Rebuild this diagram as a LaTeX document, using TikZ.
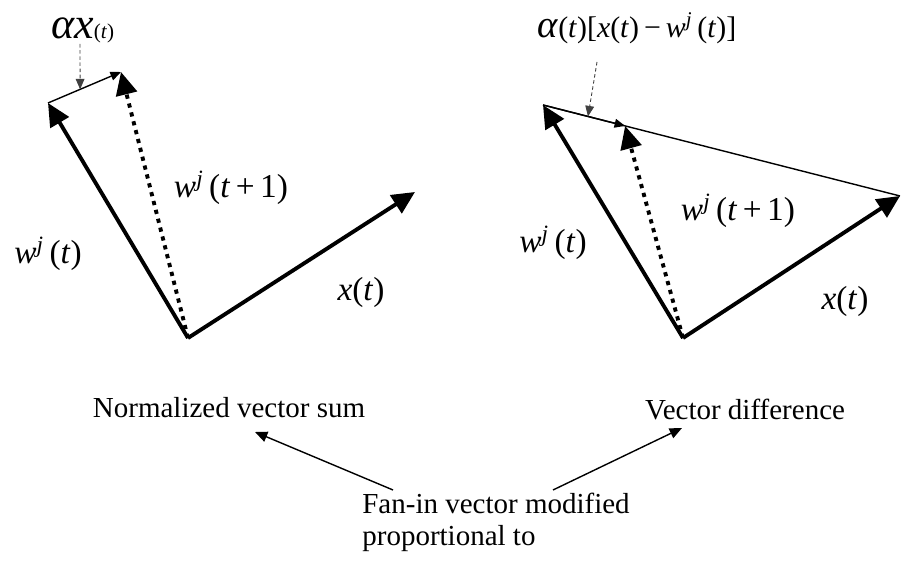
\documentclass[tikz,border=0pt]{standalone}
\usepackage{fontspec}
\setmainfont{Liberation Serif}
\newfontfamily\vecfont{Liberation Serif}
\usetikzlibrary{arrows.meta,calc}
\newcommand{\wvec}[1]{\textit{w}\textsuperscript{\textit{j}}\,(#1)}
\newcommand{\xvec}{\textit{x}(\textit{t})}

\begin{document}
\begin{tikzpicture}[x=1cm,y=1cm,>=Latex,
  vec/.style={line width=2.2pt,-{Triangle[length=13pt,width=12pt]}},
  dotvec/.style={vec,dash pattern=on 2.4pt off 2.8pt},
  thinvec/.style={line width=0.8pt,-{Triangle[length=6pt,width=5pt]}},
  pointer/.style={line width=0.5pt,black!75,dash pattern=on 2pt off 1.5pt,-{Triangle[length=6pt,width=5pt]}},
  callout/.style={line width=0.8pt,-{Triangle[length=7pt,width=6pt]}},
  lbl/.style={inner sep=0pt,font=\vecfont\fontsize{19}{22}\selectfont},
  txt/.style={inner sep=0pt,font=\fontsize{16.5}{18.2}\selectfont}]

\useasboundingbox (0,0) rectangle (18.08,11.24);

% left: normalized sum
\coordinate (oL) at (3.76,4.48);
\coordinate (wL) at (0.96,9.18);
\coordinate (xL) at (8.30,7.40);
\coordinate (uL) at (2.42,9.80);

\draw[vec] (oL) -- (wL);
\draw[vec] (oL) -- (xL);
\draw[thinvec] (wL) -- (uL);
\draw[dotvec] (oL) -- (uL);

% right: difference
\coordinate (oR) at (13.66,4.48);
\coordinate (wR) at (10.86,9.14);
\coordinate (xR) at (18.00,7.32);
\coordinate (uR) at ($(wR)!0.23!(xR)$);

\draw[line width=0.8pt] (wR) -- (xR);
\draw[vec] (oR) -- (wR);
\draw[vec] (oR) -- (xR);
\draw[thinvec] (wR) -- (uR);
\draw[dotvec] (oR) -- (uR);

% vector labels
\node[lbl] (lwL) at (0.96,6.16) {\wvec{\textit{t}}};
\node[lbl] (lnL) at (4.62,7.48) {\wvec{\textit{t}\,+\,1}};
\node[lbl] (lxL) at (7.22,5.40) {\xvec};
\node[lbl] (lwR) at (11.06,6.38) {\wvec{\textit{t}}};
\node[lbl] (lnR) at (14.76,7.02) {\wvec{\textit{t}\,+\,1}};
\node[lbl] (lxR) at (16.90,5.22) {\xvec};

% update terms
\node[inner sep=0pt,anchor=base west,font=\vecfont] (stepL) at (1.02,10.47)
  {\fontsize{25}{26}\selectfont\textit{αx}\fontsize{12}{13}\selectfont(\textit{t})};
\node[inner sep=0pt,anchor=base west,font=\vecfont] (stepR) at (10.74,10.48)
  {\fontsize{22}{22}\selectfont\textit{α}\fontsize{17}{18}\selectfont(\textit{t})[\textit{x}(\textit{t})\,−\,\wvec{\textit{t}}]};
\coordinate (pL) at (1.60,10.36);
\coordinate (pR) at (11.94,10.00);
\draw[pointer] (pL) -- ($(wL)!0.44!(uL)$);
\draw[pointer] (pR) -- ($(wR)!0.126!(xR)$);

% captions
\node[txt] (sum) at (4.58,3.08) {Normalized vector sum};
\node[txt] (diff) at (14.90,3.04) {Vector difference};
\node[txt,align=left,anchor=west] (fan) at (7.24,0.80) {Fan-in vector modified\\proportional to};

\coordinate (fanL) at (7.86,1.44);
\coordinate (fanR) at (11.06,1.44);
\coordinate (sumT) at (5.10,2.60);
\coordinate (diffT) at (13.64,2.68);
\draw[callout] (fanL) -- (sumT);
\draw[callout] (fanR) -- (diffT);

\end{tikzpicture}
\end{document}
